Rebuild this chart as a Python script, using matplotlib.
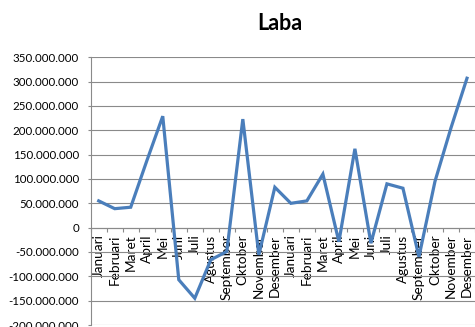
import matplotlib
matplotlib.use("Agg")
import matplotlib.pyplot as plt
from matplotlib.ticker import FuncFormatter, FixedLocator, MultipleLocator

months = ["Januari", "Februari", "Maret", "April", "Mei", "Juni", "Juli",
          "Agustus", "September", "Oktober", "November", "Desember"]
categories = months + months
laba = [55e6, 39e6, 42e6, 137e6, 229e6, -107e6, -145e6, -66e6, -49e6, 223e6,
        -56e6, 83e6, 50e6, 55e6, 110e6, -29e6, 162e6, -32e6, 90e6, 81e6,
        -60e6, 95e6, 205e6, 307e6]
title = "Laba"

plt.rcParams['font.family'] = ['Lato', 'DejaVu Sans']

fig = plt.figure(figsize=(4.75, 3.27), dpi=100)
ax = fig.add_axes([90.7 / 475, 2 / 327, 1 - 90.7 / 475, (325 - 57.3) / 327])

x = list(range(len(categories)))
ax.plot(x, laba, color="#4A7EBB", lw=2.3, solid_joinstyle="miter", zorder=3)

ax.set_ylim(-200e6, 350e6)
ax.set_xlim(-0.5, len(categories) - 0.5)
ax.yaxis.set_major_locator(MultipleLocator(50e6))
ax.yaxis.set_major_formatter(FuncFormatter(lambda v, p: f"{v:,.0f}".replace(",", ".")))
ax.grid(axis="y", color="#8a8a8a", lw=0.8)
ax.set_axisbelow(True)

for s in ("top", "right"):
    ax.spines[s].set_visible(False)
ax.spines["bottom"].set_position(("data", 0))
ax.spines["bottom"].set_color("#8a8a8a")
ax.spines["left"].set_color("#8a8a8a")
ax.spines["bottom"].set_linewidth(0.8)
ax.spines["left"].set_linewidth(0.8)

ax.set_xticks(x)
ax.set_xticklabels(categories, rotation=90, va="top", ha="center")
ax.xaxis.set_minor_locator(FixedLocator([i - 0.5 for i in range(len(categories) + 1)]))
ax.tick_params(axis="x", which="major", length=0, pad=5, labelsize=9.8)
ax.tick_params(axis="x", which="minor", length=3, width=0.8, color="#8a8a8a", direction="out")
ax.tick_params(axis="y", length=2.5, width=0.8, color="#8a8a8a", pad=6, labelsize=8.3)

fig.text(280 / 475, 1 - 23 / 327, title, ha="center", va="center",
         fontsize=15.5, fontweight="bold")

fig.savefig("out.png", dpi=100)
